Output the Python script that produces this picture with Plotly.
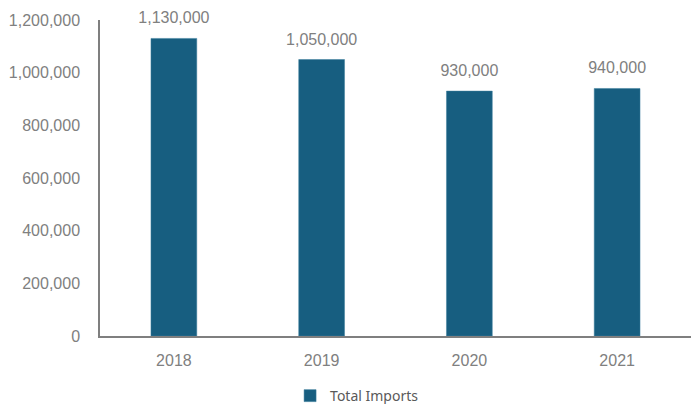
import plotly.graph_objects as go

years = ["2018", "2019", "2020", "2021"]
imports = [1130000, 1050000, 930000, 940000]
labels = ["1,130,000", "1,050,000", "930,000", "940,000"]
y_ticks = [0, 200000, 400000, 600000, 800000, 1000000, 1200000]
y_tick_text = ["0", "200,000", "400,000", "600,000", "800,000", "1,000,000", "1,200,000"]

fig = go.Figure()
fig.add_trace(go.Bar(
    x=years, y=imports, name="Total Imports",
    marker=dict(color="#175e80", line=dict(color="#3d7e9c", width=0.5)),
    width=0.31,
))
fig.add_trace(go.Scatter(
    x=years, y=imports, text=labels, mode="markers+text", textposition="top center",
    marker=dict(size=16, opacity=0), showlegend=False, hoverinfo="skip", cliponaxis=False,
    textfont=dict(family="Liberation Sans, Arial", size=16, color="#808080"),
))
fig.update_layout(
    width=691, height=404,
    margin=dict(l=100, r=0, t=20, b=68, autoexpand=False),
    paper_bgcolor="white", plot_bgcolor="white",
    showlegend=True,
    legend=dict(orientation="h", x=0.435, xanchor="center", y=-0.19, yanchor="middle",
                itemwidth=30,
                font=dict(family="Noto Sans, Liberation Sans", size=14, color="#595959")),
    font=dict(family="Liberation Sans, Arial", size=16, color="#808080"),
)
fig.update_xaxes(type="category", showline=True, linecolor="#7f7f7f", linewidth=1.5, ticks="",
                 ticklabelstandoff=9,
                 tickfont=dict(size=16, color="#808080"))
fig.update_yaxes(range=[0, 1200000], tickvals=y_ticks, ticktext=y_tick_text,
                 showline=True, linecolor="#7f7f7f", linewidth=1.5, showgrid=False,
                 zeroline=False, ticks="", ticklabelstandoff=15,
                 tickfont=dict(size=16, color="#808080"))
fig.write_html("out.html")
